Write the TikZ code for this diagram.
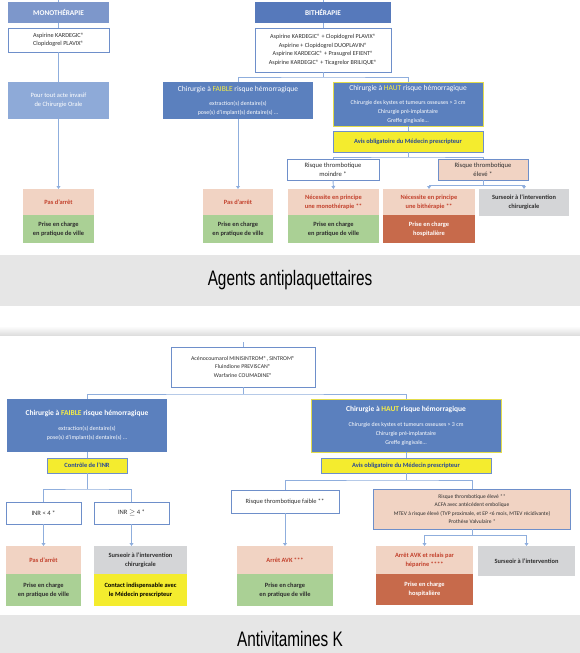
\documentclass[tikz,border=0pt]{standalone}
\usepackage{fontspec}
\setmainfont{Carlito}
\newfontfamily\titlefont[FakeStretch=0.73]{Liberation Sans}
\usetikzlibrary{arrows.meta}
\definecolor{monoblue}{HTML}{7D97CB}
\definecolor{pourblue}{HTML}{8EAAD8}
\definecolor{biblue}{HTML}{5679BB}
\definecolor{hblue}{HTML}{5B80BE}
\definecolor{bord}{HTML}{6E8FCA}
\definecolor{connc}{HTML}{8FAEDD}
\definecolor{peach}{HTML}{F1D3C3}
\definecolor{redtxt}{HTML}{C2402B}
\definecolor{greenc}{HTML}{AAD095}
\definecolor{terra}{HTML}{C76A4B}
\definecolor{grayc}{HTML}{D4D5D7}
\definecolor{yel}{HTML}{F4EC2E}
\definecolor{yeltxt}{HTML}{F7EE46}
\definecolor{hautyel}{HTML}{E3DC4C}
\definecolor{avistxt}{HTML}{2A4A94}
\definecolor{bandc}{HTML}{E6E6E6}
\definecolor{darktxt}{HTML}{2E2E2E}
\tikzset{
 base/.style={inner sep=0pt, outer sep=0pt, align=center},
 sz/.style 2 args={minimum width=#1pt, minimum height=#2pt},
 hdr/.style={base, text=white, font=\fontsize{7.3}{8}\selectfont\bfseries},
 drug/.style={base, fill=white, draw=bord, line width=0.8pt, font=\fontsize{5.8}{8.6}\selectfont, text=darktxt},
 blueh/.style={base, fill=hblue, text=white, font=\fontsize{5.9}{9}\selectfont},
 peachb/.style={base, fill=peach, text=redtxt, font=\fontsize{6.4}{8.6}\selectfont\bfseries},
 greenb/.style={base, fill=greenc, text=darktxt, font=\fontsize{6.4}{8.6}\selectfont\bfseries},
 terrab/.style={base, fill=terra, text=white, font=\fontsize{6.4}{8.6}\selectfont\bfseries},
 grayb/.style={base, fill=grayc, text=darktxt, font=\fontsize{6.4}{8.6}\selectfont\bfseries},
 yelb/.style={base, fill=yel, text=black, font=\fontsize{6.4}{8.6}\selectfont\bfseries},
 avisb/.style={base, fill=yel, draw=bord, line width=0.8pt, text=avistxt, font=\fontsize{6.4}{8}\selectfont\bfseries},
 bandb/.style={base, fill=bandc, text=black, font=\titlefont\fontsize{21}{24}\selectfont},
 conn/.style={draw=connc, line width=0.9pt},
 arr/.style={conn, -{Triangle[width=3.8pt,length=3pt]}}
}
\begin{document}
\begin{tikzpicture}[x=1pt,y=-1pt]
\useasboundingbox (0,0) rectangle (580,653);
\fill[white] (0,0) rectangle (580,653);

% ---------- Top section ----------
\node[hdr, fill=monoblue, sz={101}{21}] (monohead) at (58.5,12.5) {MONOTHÉRAPIE};
\node[drug, font=\fontsize{6.2}{8.4}\selectfont, sz={101}{24}] (monodrug) at (58.5,40) {Aspirine KARDEGIC®\\Clopidogrel PLAVIX®};
\node[base, fill=pourblue, text=white, font=\fontsize{6.5}{8.8}\selectfont, sz={101}{37}] (pour) at (58.5,100.5) {Pour tout acte invasif\\de Chirurgie Orale};
\node[peachb, sz={71}{26}] (mpas) at (58.5,202) {Pas d'arrêt};
\node[greenb, sz={71}{28}] (mprise) at (58.5,229) {Prise en charge\\en pratique de ville};

\node[hdr, fill=biblue, sz={136}{21}] (bihead) at (323,12.5) {BITHÉRAPIE};
\node[drug, font=\fontsize{6.1}{8.8}\selectfont, sz={136}{44}] (bidrug) at (323,50) {Aspirine KARDEGIC® + Clopidogrel PLAVIX®\\Aspirine + Clopidogrel DUOPLAVIN®\\Aspirine KARDEGIC® + Prasugrel EFIENT®\\Aspirine KARDEGIC® + Ticagrelor BRILIQUE®};

\node[blueh, sz={150}{37}] (faible) at (238,100.5) {{\fontsize{7.5}{8}\selectfont Chirurgie à \textcolor{yeltxt}{FAIBLE} risque hémorragique}\\[5pt]extraction(s) dentaire(s)\\pose(s) d'implant(s) dentaire(s) \dots};
\node[blueh, draw=hautyel, line width=1pt, sz={150}{44}] (haut) at (408,104) {{\fontsize{7.5}{8}\selectfont Chirurgie à \textcolor{yeltxt}{HAUT} risque hémorragique}\\[5pt]Chirurgie des kystes et tumeurs osseuses > 3 cm\\Chirurgie pré-implantaire\\Greffe gingivale\dots};
\node[avisb, sz={150}{21}] (avis) at (408,141.5) {Avis obligatoire du Médecin prescripteur};

\node[drug, font=\fontsize{6.6}{9}\selectfont, sz={92}{21}] (rmin) at (333,169.5) {Risque thrombotique\\moindre *};
\node[drug, font=\fontsize{6.6}{9}\selectfont, fill=peach, sz={90}{21}] (releve) at (483,169.5) {Risque thrombotique\\élevé *};

\node[peachb, sz={70}{26}] (fpas) at (238,202) {Pas d'arrêt};
\node[greenb, sz={70}{28}] (fprise) at (238,229) {Prise en charge\\en pratique de ville};
\node[peachb, sz={91}{26}] (nmono) at (333.5,202) {Nécessite en principe\\une monothérapie **};
\node[greenb, sz={91}{28}] (pmono) at (333.5,229) {Prise en charge\\en pratique de ville};
\node[peachb, sz={92}{26}] (nbi) at (429,202) {Nécessite en principe\\une bithérapie **};
\node[terrab, sz={92}{28}] (hbi) at (429,229) {Prise en charge\\hospitalière};
\node[grayb, sz={90}{27}] (surs1) at (524,202.5) {Surseoir à l'intervention\\chirurgicale};

\node[bandb, sz={580}{51}] (band1) at (290,280.5) {Agents antiplaquettaires};

% connectors top
\draw[conn] (monohead.north) -- ++(0,-4) coordinate (mtop);
\draw[conn] (monohead.south) -- (monodrug.north);
\draw[conn] (monodrug.south) -- (pour.north);
\draw[arr] (pour.south) -- (mpas.north);
\draw[conn] (bihead.north) -- ++(0,-4) coordinate (btop);
\draw[conn] (bihead.south) -- (bidrug.north);
\draw[conn] (bidrug.south) -- ++(0,5) coordinate (bj);
\draw[conn] (faible.north) |- (bj) -| (haut.north);
\draw[arr] (faible.south) -- (fpas.north);
\draw[conn] (haut.south) -- (avis.north);
\draw[conn] (avis.south) -- ++(0,5) coordinate (aj);
\draw[conn] (rmin.north) |- (aj) -| (releve.north);
\draw[arr] (rmin.south) -- (nmono.north);
\draw[conn] (releve.south) -- ++(0,5) coordinate (ej);
\draw[arr] (ej) -| (nbi.north);
\draw[arr] (ej) -| (surs1.north);

% divider shadow
\shade[top color=white, bottom color=black!13] (0,326) rectangle (580,335);

% ---------- Bottom section ----------
\node[drug, sz={144}{40}] (avkdrug) at (243,367) {Acénocoumarol MINISINTROM®, SINTROM®\\Fluindione PREVISCAN®\\Warfarine COUMADINE®};
\node[blueh, sz={160}{53}] (faible2) at (87,425.5) {{\fontsize{7.5}{8}\selectfont\bfseries Chirurgie à \textcolor{yeltxt}{FAIBLE} risque hémorragique}\\[6pt]extraction(s) dentaire(s)\\pose(s) d'implant(s) dentaire(s) \dots};
\node[blueh, draw=hautyel, line width=1pt, sz={190}{53}] (haut2) at (406,425.5) {{\fontsize{7.5}{8}\selectfont\bfseries Chirurgie à \textcolor{yeltxt}{HAUT} risque hémorragique}\\[6pt]Chirurgie des kystes et tumeurs osseuses > 3 cm\\Chirurgie pré-implantaire\\Greffe gingivale\dots};
\node[avisb, sz={80}{15}] (controle) at (87,465.5) {Contrôle de l'INR};
\node[avisb, sz={170}{15}] (avis2) at (406,465.5) {Avis obligatoire du Médecin prescripteur};

\node[drug, font=\fontsize{6.6}{9}\selectfont, sz={75}{22}] (inr1) at (43.5,513) {INR < 4 *};
\node[drug, font=\fontsize{6.6}{9}\selectfont, sz={75}{22}] (inr2) at (131.5,513) {INR $\geq$ 4 *};
\node[drug, font=\fontsize{6.4}{9}\selectfont, sz={108}{23}] (rfaible) at (285,501.5) {Risque thrombotique faible **};
\node[drug, fill=peach, font=\fontsize{5.5}{8.4}\selectfont, sz={197}{40}] (relev2) at (472,509) {Risque thrombotique élevé **\\ACFA avec antécédent embolique\\MTEV à risque élevé (TVP proximale, et EP <6 mois, MTEV récidivante)\\Prothèse Valvulaire *};

\node[peachb, sz={75}{28}] (bpas) at (43.5,560) {Pas d'arrêt};
\node[greenb, sz={75}{32}] (bprise) at (43.5,590) {Prise en charge\\en pratique de ville};
\node[grayb, sz={93}{28}] (bsurs) at (140.5,560) {Surseoir à l'intervention\\chirurgicale};
\node[yelb, sz={93}{32}] (bcontact) at (140.5,590) {Contact indispensable avec\\le Médecin prescripteur};
\node[peachb, sz={96}{28}] (arret) at (285,560) {Arrêt AVK ***};
\node[greenb, sz={96}{32}] (aprise) at (285,590) {Prise en charge\\en pratique de ville};
\node[peachb, sz={97}{28}] (relais) at (424.5,560) {Arrêt AVK et relais par\\héparine ****};
\node[terrab, sz={97}{31}] (hosp2) at (424.5,589.5) {Prise en charge\\hospitalière};
\node[grayb, sz={97}{30}] (surs2) at (526.5,561) {Surseoir à l'intervention};

\node[bandb, sz={580}{48}] (band2) at (290,639) {Antivitamines K};

% connectors bottom
\draw[conn] (avkdrug.north) -- ++(0,-5) coordinate (vtop);
\draw[conn] (avkdrug.south) -- ++(0,7) coordinate (cj);
\draw[conn] (faible2.north) |- (cj) -| (haut2.north);
\draw[conn] (faible2.south) -- (controle.north);
\draw[conn] (controle.south) -- ++(0,16) coordinate (ij);
\draw[conn] (inr1.north) |- (ij) -| (inr2.north);
\draw[arr] (inr1.south) -- (bpas.north);
\draw[arr] (inr2.south) -- (inr2.south |- bsurs.north);
\draw[conn] (haut2.south) -- (avis2.north);
\draw[conn] (avis2.south) -- ++(0,7) coordinate (vj);
\draw[conn] (rfaible.north) |- (vj) -| (relev2.north);
\draw[arr] (rfaible.south) -- (arret.north);
\draw[conn] (relev2.south) -- ++(0,6) coordinate (ej2);
\draw[arr] (ej2) -| (relais.north);
\draw[arr] (ej2) -| (surs2.north);
\end{tikzpicture}
\end{document}
